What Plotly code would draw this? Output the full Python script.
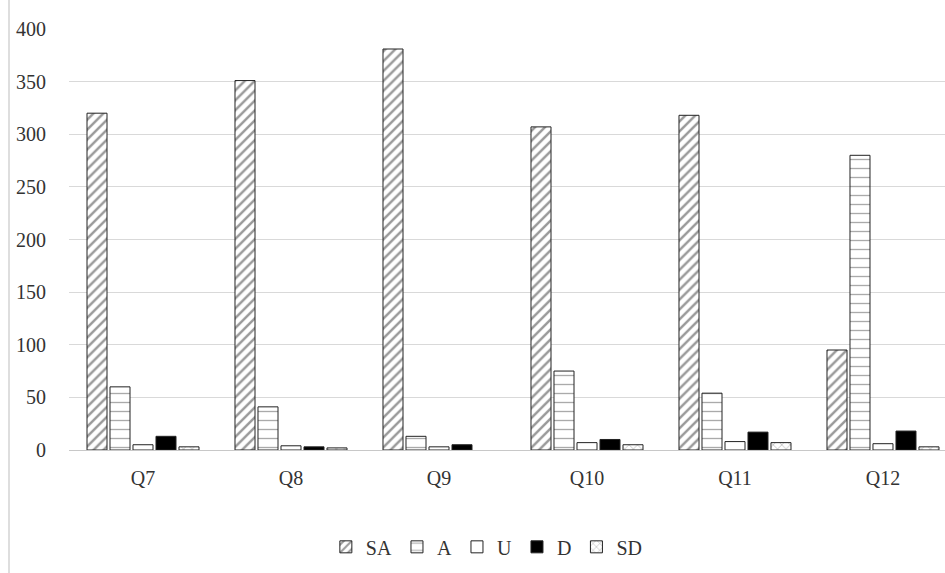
import plotly.graph_objects as go

# Survey responses per question
questions = ["Q7", "Q8", "Q9", "Q10", "Q11", "Q12"]
sa = [320, 351, 381, 307, 318, 95]
a = [60, 41, 13, 75, 54, 280]
u = [5, 4, 3, 7, 8, 6]
d = [13, 3, 5, 10, 17, 18]
sd = [3, 2, 0, 5, 7, 3]

series = [
    ("SA", sa, dict(shape="/", fgcolor="#333333", bgcolor="white", size=7, solidity=0.35)),
    ("A", a, dict(shape="-", fgcolor="#555555", bgcolor="white", size=9, solidity=0.15)),
    ("U", u, dict(shape="", bgcolor="white")),
    ("D", d, dict(shape="", bgcolor="black")),
    ("SD", sd, dict(shape="x", fgcolor="#555555", bgcolor="white", size=6, solidity=0.2)),
]

fig = go.Figure()
for name, vals, pat in series:
    color = "black" if name == "D" else "white"
    fig.add_trace(go.Bar(
        x=questions, y=vals, name=name,
        marker=dict(color=color, pattern=pat,
                    line=dict(color="#222222", width=[1 if v > 0 else 0 for v in vals])),
    ))

font = dict(family="Liberation Serif, Times New Roman, serif", size=20, color="#333333")

fig.update_layout(
    width=945, height=573,
    margin=dict(l=69, r=0, t=29, b=123),
    paper_bgcolor="white", plot_bgcolor="white",
    barmode="group", bargap=0.223, bargroupgap=0.13,
    font=font,
    showlegend=True,
    legend=dict(orientation="h", x=0.477, xanchor="center", y=-0.23, yanchor="middle",
                font=font, itemwidth=30, traceorder="normal"),
    xaxis=dict(range=[-0.5, 5.419], showgrid=False, showline=False, ticks="",
               tickfont=font, ticklabelstandoff=14),
    yaxis=dict(range=[0, 400], dtick=50, showgrid=True, gridcolor="#d9d9d9", gridwidth=1,
               zeroline=True, zerolinecolor="#c8c8c8", zerolinewidth=1,
               showline=False, ticks="", tickfont=font, ticklabelstandoff=22),
    shapes=[dict(type="line", xref="paper", yref="paper",
                 x0=-0.0685, x1=-0.0685, y0=-0.3, y1=1.08,
                 line=dict(color="#dedede", width=2))],
)

fig.write_html("out.html")
